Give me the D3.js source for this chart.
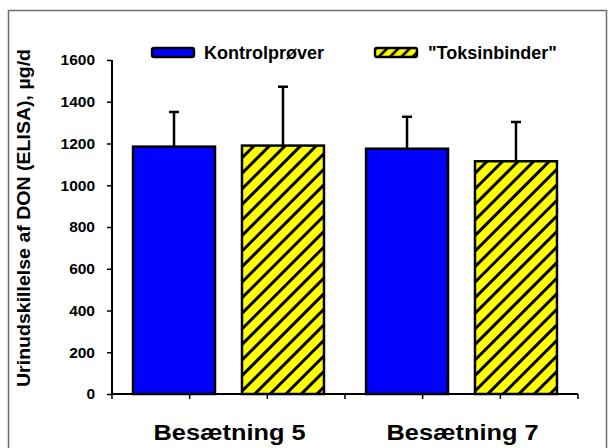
<!DOCTYPE html>
<html>
<head>
<meta charset="utf-8">
<script src="https://cdn.jsdelivr.net/npm/d3@7"></script>
<style>
  html, body { margin: 0; padding: 0; background: #fff; }
  svg { display: block; font-family: "Liberation Sans", Arial, sans-serif; font-weight: bold; }
</style>
</head>
<body>
<svg id="chart" width="611" height="448"></svg>
<script>
// Urinary DON excretion per herd, control vs. toxin binder
const categories = ["Besætning 5", "Besætning 7"];
const seriesNames = ["Kontrolprøver", "\"Toksinbinder\""];
const kontrolValues = [1185, 1175];
const kontrolSD = [166, 153];
const toksinValues = [1190, 1115];
const toksinSD = [282, 188];
const yTicks = [0, 200, 400, 600, 800, 1000, 1200, 1400, 1600];
const yTitle = "Urinudskillelse af DON (ELISA), µg/d";

const series = [
  { name: seriesNames[0], values: kontrolValues, sd: kontrolSD, fill: "#0000ff" },
  { name: seriesNames[1], values: toksinValues, sd: toksinSD, fill: "url(#hatch)" }
];

const svg = d3.select("#chart");

// diagonal hatch for the toxin-binder series
const defs = svg.append("defs");
function hatch(id, w, sw) {
  const p = defs.append("pattern")
    .attr("id", id)
    .attr("patternUnits", "userSpaceOnUse")
    .attr("width", w).attr("height", w)
    .attr("patternTransform", "rotate(45)");
  p.append("rect").attr("width", w).attr("height", w).attr("fill", "#ffff00");
  p.append("line").attr("x1", w / 2).attr("y1", 0).attr("x2", w / 2).attr("y2", w)
    .attr("stroke", "#000").attr("stroke-width", sw);
}
hatch("hatch", 11, 3);
hatch("hatchSmall", 8, 2.6);

// outer frame
svg.append("rect")
  .attr("x", 8.5).attr("y", 10.5)
  .attr("width", 598).attr("height", 445)
  .attr("fill", "none").attr("stroke", "#6e6e6e").attr("stroke-width", 1.5);

const plotLeft = 112, plotRight = 578, plotTop = 60, plotBottom = 394;

const y = d3.scaleLinear().domain([0, 1600]).range([plotBottom, plotTop]);
const x0 = d3.scaleBand().domain(categories).range([plotLeft, plotRight]).padding(0);
const x1 = d3.scaleBand().domain(seriesNames).range([0, x0.bandwidth()])
  .paddingInner(0.2477).paddingOuter(0.193);

// y axis
const yAxis = svg.append("g").attr("transform", `translate(${plotLeft},0)`)
  .call(d3.axisLeft(y).tickValues(yTicks).tickSize(5).tickPadding(12).tickFormat(d3.format("d")));
yAxis.select(".domain").attr("stroke", "#000").attr("stroke-width", 2)
  .attr("d", `M0,${plotTop}V${plotBottom}`);
yAxis.selectAll(".tick line").attr("stroke", "#000").attr("stroke-width", 1.5);
yAxis.selectAll(".tick text").attr("font-size", 15.5).attr("font-weight", "bold")
  .attr("fill", "#000").attr("font-family", "'Liberation Sans', Arial, sans-serif");

// bars
const groups = svg.selectAll("g.cat").data(categories).join("g")
  .attr("class", "cat")
  .attr("transform", d => `translate(${x0(d)},0)`);

series.forEach(s => {
  groups.append("rect")
    .attr("x", x1(s.name))
    .attr("y", (d, i) => y(s.values[i]))
    .attr("width", x1.bandwidth())
    .attr("height", (d, i) => y(0) - y(s.values[i]))
    .attr("fill", s.fill)
    .attr("stroke", "#000").attr("stroke-width", 2.5);
  // upward error bars
  const cx = x1(s.name) + x1.bandwidth() / 2;
  groups.append("line")
    .attr("x1", cx).attr("x2", cx)
    .attr("y1", (d, i) => y(s.values[i]))
    .attr("y2", (d, i) => y(s.values[i] + s.sd[i]))
    .attr("stroke", "#000").attr("stroke-width", 2.5);
  groups.append("line")
    .attr("x1", cx - 5).attr("x2", cx + 5)
    .attr("y1", (d, i) => y(s.values[i] + s.sd[i]))
    .attr("y2", (d, i) => y(s.values[i] + s.sd[i]))
    .attr("stroke", "#000").attr("stroke-width", 2.5);
});

// x axis line with tick marks at thirds of each category
const xAxis = svg.append("g");
xAxis.append("line")
  .attr("x1", plotLeft).attr("x2", plotRight)
  .attr("y1", plotBottom).attr("y2", plotBottom)
  .attr("stroke", "#000").attr("stroke-width", 2);
const tickPos = [];
categories.forEach((c, i) => {
  [0, 1, 2].forEach(k => tickPos.push(x0(c) + k * x0.bandwidth() / 3));
});
tickPos.push(plotRight);
xAxis.selectAll("line.tick").data(tickPos).join("line")
  .attr("class", "tick")
  .attr("x1", d => d).attr("x2", d => d)
  .attr("y1", plotBottom).attr("y2", plotBottom + 5)
  .attr("stroke", "#000").attr("stroke-width", 1.5);

// category labels
svg.selectAll("text.cat").data(categories).join("text")
  .attr("class", "cat")
  .attr("x", d => x0(d) + x0.bandwidth() / 2 + 1)
  .attr("y", 440)
  .attr("text-anchor", "middle")
  .attr("font-size", 22)
  .attr("textLength", 152)
  .attr("lengthAdjust", "spacingAndGlyphs")
  .text(d => d);

// y axis title
svg.append("text")
  .attr("transform", "translate(30,218) rotate(-90)")
  .attr("text-anchor", "middle")
  .attr("font-size", 18)
  .attr("textLength", 338)
  .attr("lengthAdjust", "spacingAndGlyphs")
  .text(yTitle);

// legend
const legendItems = [
  { name: seriesNames[0], fill: "#0000ff", sx: 152, tx: 204 },
  { name: seriesNames[1], fill: "url(#hatchSmall)", sx: 375, tx: 428 }
];
const lg = svg.selectAll("g.legend").data(legendItems).join("g").attr("class", "legend");
lg.append("rect")
  .attr("x", d => d.sx).attr("y", 48)
  .attr("width", 42).attr("height", 9)
  .attr("rx", 2)
  .attr("fill", d => d.fill)
  .attr("stroke", "#000").attr("stroke-width", 2.4);
lg.append("text")
  .attr("x", d => d.tx).attr("y", 58.5)
  .attr("font-size", 18)
  .text(d => d.name);
</script>
</body>
</html>
